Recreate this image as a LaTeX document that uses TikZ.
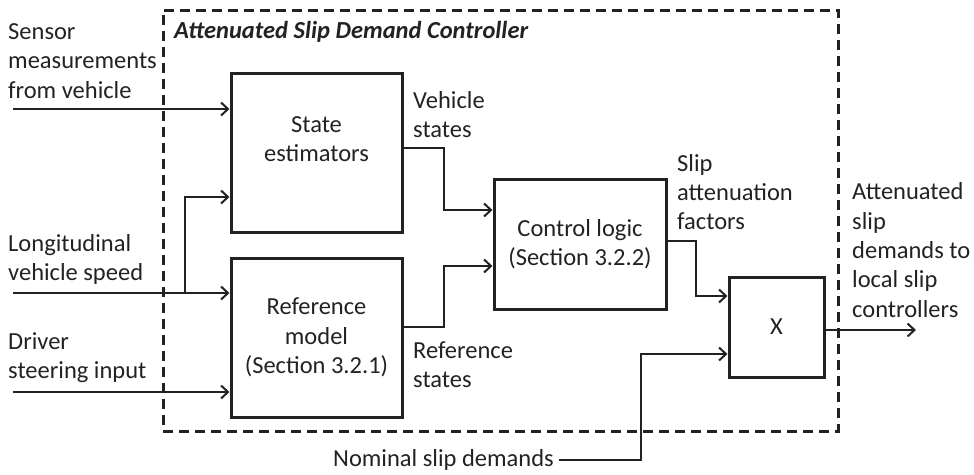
\documentclass[tikz,border=0pt]{standalone}
\usepackage{fontspec}
\setmainfont{Carlito}
\usetikzlibrary{arrows.meta}
\definecolor{ink}{RGB}{34,34,34}
\begin{document}
\begin{tikzpicture}[x=1pt,y=-1pt,
  every node/.style={font=\fontsize{24.5}{29.3}\selectfont, text=ink},
  blk/.style={draw=ink, line width=3pt, inner sep=0pt},
  conn/.style={draw=ink, line width=2pt, -{Straight Barb[length=7pt,width=13pt,line width=2pt]}},
  lbl/.style={align=left, inner sep=0pt, anchor=west},
  frame/.style={draw=ink, line width=3pt, dash pattern=on 10pt off 6pt, inner sep=0pt}]
\path[use as bounding box] (0,0) rectangle (974,474);
% dashed frame
\node[frame, minimum width=675pt, minimum height=421pt] (fr) at (500.5,220.5) {};
\node[lbl, font=\fontsize{24.5}{29.3}\selectfont\bfseries\itshape] (title) at (174,32) {Attenuated Slip Demand Controller};
% blocks
\node[blk, minimum width=171pt, minimum height=159pt] (se) at (316.5,152.5) {};
\node[align=center, inner sep=0pt] (setxt) at (316.5,139) {State\\estimators};
\node[blk, minimum width=171pt, minimum height=159pt, align=center] (rm) at (316.5,337.5) {Reference\\model\\(Section 3.2.1)};
\node[blk, minimum width=172pt, minimum height=130pt, align=center] (cl) at (580,244) {Control logic\\(Section 3.2.2)};
\node[blk, minimum width=95pt, minimum height=100pt] (xb) at (776.5,327) {X};
% labels
\node[lbl] (sens) at (8,61) {Sensor\\measurements\\from vehicle};
\node[lbl] (long) at (8,259.5) {Longitudinal\\vehicle speed};
\node[lbl] (drv) at (8,357.5) {Driver\\steering input};
\node[lbl] (vs) at (413,114.5) {Vehicle\\states};
\node[lbl] (rs) at (413,365) {Reference\\states};
\node[lbl] (saf) at (677,192) {Slip\\attenuation\\factors};
\node[lbl] (att) at (852,250) {Attenuated\\slip\\demands to\\local slip\\controllers};
\node[anchor=east, inner xsep=5pt, inner ysep=0pt] (nom) at (559,460) {Nominal slip demands};
% coordinates
\coordinate (sin) at (13,109);
\coordinate (lin) at (13,293);
\coordinate (br) at (185,293);
\coordinate (brt) at (185,197);
\coordinate (din) at (13,392);
\coordinate (v1) at (444,148);
\coordinate (v2) at (444,210);
\coordinate (r1) at (444,327);
\coordinate (r2) at (444,266);
\coordinate (c1) at (696,241);
\coordinate (c2) at (696,296);
\coordinate (n1) at (641,460);
\coordinate (n2) at (641,354);
\coordinate (o1) at (916,330);
% connectors
\draw[conn] (sin) -- (se.west |- sin);
\draw[conn] (lin) -- (rm.west |- lin);
\draw[conn] (br) -- (brt) -- (se.west |- brt);
\draw[conn] (din) -- (rm.west |- din);
\draw[conn] (se.east |- v1) -- (v1) -- (v2) -- (cl.west |- v2);
\draw[conn] (rm.east |- r1) -- (r1) -- (r2) -- (cl.west |- r2);
\draw[conn] (cl.east |- c1) -- (c1) -- (c2) -- (xb.west |- c2);
\draw[conn] (nom.east) -- (n1) -- (n2) -- (xb.west |- n2);
\draw[conn] (xb.east |- o1) -- (o1);
\end{tikzpicture}
\end{document}
